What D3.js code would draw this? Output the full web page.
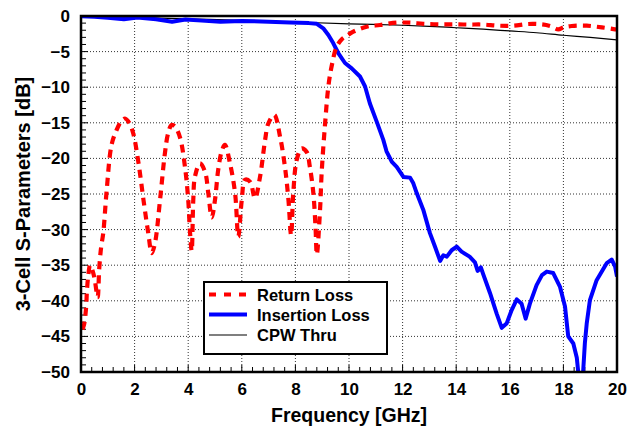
<!DOCTYPE html>
<html><head><meta charset="utf-8">
<script src="https://cdn.jsdelivr.net/npm/d3@7"></script>
<style>body{margin:0;background:#fff}svg{display:block}text{font-family:"Liberation Sans",Arial,sans-serif;font-weight:bold}</style>
</head><body>
<svg id="c" width="637" height="432"></svg>
<script>
const xTicks = [0, 2, 4, 6, 8, 10, 12, 14, 16, 18, 20];
const yTicks = [0, -5, -10, -15, -20, -25, -30, -35, -40, -45, -50];
const seriesNames = ["Return Loss", "Insertion Loss", "CPW Thru"];

const rlFreq = [0.05,0.11,0.19,0.22,0.27,0.34,0.45,0.52,0.62,0.68,0.75,0.83,0.96,1.14,1.33,1.5,1.64,1.8,1.95,2.14,2.33,2.51,2.64,2.76,2.95,3.13,3.25,3.38,3.5,3.69,3.88,4.0,4.07,4.13,4.19,4.25,4.44,4.63,4.75,4.88,5.0,5.12,5.25,5.37,5.56,5.75,5.87,6.0,6.12,6.31,6.49,6.68,6.87,6.99,7.21,7.43,7.61,7.74,7.84,7.92,8.05,8.23,8.42,8.54,8.67,8.75,8.8,8.92,8.98,9.1,9.23,9.35,9.54,9.75,9.91,10.16,10.66,11.16,11.78,12.28,12.77,13.33,13.9,14.45,15.0,15.57,16.13,16.69,17.19,17.5,17.81,18.0,18.31,18.87,19.43,19.93,20];
const rlDb = [-44,-43.4,-41,-38.7,-36.5,-35,-36,-37.2,-39.5,-35.5,-32.5,-30.5,-24.4,-18.1,-16,-14.8,-14.4,-15,-16.5,-20.5,-25.8,-30.5,-33.3,-31.9,-25.8,-19.3,-16.5,-15.3,-15.5,-17,-21.2,-25.8,-30.5,-33,-25.8,-22.6,-20.7,-21.9,-24.9,-28.3,-25.8,-21.6,-19,-18.1,-20.7,-24.9,-31,-25.8,-23,-23.3,-25.6,-22.6,-17.4,-15.1,-13.9,-17,-21.2,-25.8,-30.8,-24.9,-20.2,-18.6,-19.1,-21.2,-24.9,-29.6,-33.5,-27.2,-22,-15.5,-9.9,-7.1,-4.3,-3.2,-2.8,-2.2,-1.5,-1.26,-0.94,-0.94,-1.1,-1.17,-1.17,-1.2,-1.2,-1.36,-1.36,-1.12,-1.17,-1.4,-1.87,-1.6,-1.4,-1.36,-1.6,-1.87,-1.9];

const ilFreq = [0,0.5,1.0,1.6,2.1,2.8,3.4,3.9,4.5,5.2,6.0,7.0,7.8,8.5,8.8,9.04,9.23,9.41,9.6,9.85,10.1,10.41,10.6,10.78,11.03,11.28,11.4,11.6,11.78,12.03,12.28,12.4,12.53,12.77,13.02,13.21,13.4,13.52,13.65,13.83,14.02,14.2,14.5,14.7,14.8,14.92,15.01,15.26,15.51,15.7,15.88,16.07,16.26,16.44,16.59,16.75,17.0,17.2,17.38,17.62,17.87,18.06,18.18,18.37,18.5,18.58,18.65,18.72,18.8,18.87,18.99,19.24,19.62,19.8,19.93,20.0];
const ilDb = [-0.05,-0.1,-0.25,-0.45,-0.2,-0.45,-0.8,-0.5,-0.65,-0.8,-0.7,-0.8,-0.9,-1.0,-1.1,-1.73,-2.67,-3.8,-5.2,-6.6,-7.35,-8.5,-9.9,-12.3,-14.8,-17.4,-19.0,-20.5,-21.2,-22.6,-22.7,-23.5,-24.9,-27.2,-30.5,-32.4,-34.4,-33.6,-33.8,-32.9,-32.4,-33.1,-33.8,-34.6,-35.8,-35.3,-36.3,-38.9,-41.8,-43.8,-43.2,-41.3,-39.8,-40.4,-42.5,-40.4,-37.8,-36.4,-35.9,-36.1,-38.0,-40.8,-45,-46,-48,-51,-56,-51,-46,-43.2,-39.9,-37.1,-34.7,-34.2,-35.2,-36.6];

const cpwFreq = [0,2,4,6,8,10,12,13,14,15,16,17,18,19,20];
const cpwDb = [-0.05,-0.2,-0.4,-0.6,-0.85,-1.1,-1.3,-1.45,-1.65,-1.85,-2.1,-2.35,-2.7,-3.0,-3.35];

const svg = d3.select("#c");
const L = 81, R = 617, T = 16, B = 372;
const FONT = '"Liberation Sans",Arial,sans-serif';
const x = d3.scaleLinear().domain([0, 20]).range([L, R]);
const y = d3.scaleLinear().domain([-50, 0]).range([B, T]);

// grid
const g = svg.append("g");
g.selectAll(".gx").data(xTicks.slice(1, -1)).enter().append("line")
  .attr("x1", d => x(d)).attr("x2", d => x(d)).attr("y1", T).attr("y2", B)
  .attr("stroke", "#333").attr("stroke-width", 1).attr("stroke-dasharray", "1,2");
g.selectAll(".gy").data(yTicks.slice(1, -1)).enter().append("line")
  .attr("y1", d => y(d)).attr("y2", d => y(d)).attr("x1", L).attr("x2", R)
  .attr("stroke", "#333").attr("stroke-width", 1).attr("stroke-dasharray", "1,2");

// minor ticks
const xMinor = d3.range(0, 20.001, 0.4);
const yMinor = d3.range(-50, 0.001, 1);
svg.selectAll(".mx").data(xMinor).enter().append("line")
  .attr("x1", d => x(d)).attr("x2", d => x(d)).attr("y1", B).attr("y2", d => (Math.abs(d / 2 - Math.round(d / 2)) < 1e-6) ? B - 7 : B - 5)
  .attr("stroke", "#000").attr("stroke-width", 1);
svg.selectAll(".my").data(yMinor).enter().append("line")
  .attr("y1", d => y(d)).attr("y2", d => y(d)).attr("x1", L).attr("x2", d => (Math.abs(d % 5) < 1e-6) ? L + 7 : L + 5)
  .attr("stroke", "#000").attr("stroke-width", 1);

// tick labels via d3 axes
const ax = svg.append("g").attr("transform", `translate(0,${B})`)
  .call(d3.axisBottom(x).tickValues(xTicks).tickSize(0).tickPadding(11).tickFormat(d3.format("d")));
ax.select(".domain").remove();
ax.selectAll("text").attr("font-size", 17).attr("font-weight", "bold").attr("fill", "#000").attr("font-family", FONT);
const ay = svg.append("g").attr("transform", `translate(${L},0)`)
  .call(d3.axisLeft(y).tickValues(yTicks).tickSize(0).tickPadding(11).tickFormat(d3.format("d")));
ay.select(".domain").remove();
ay.selectAll("text").attr("font-size", 17).attr("font-weight", "bold").attr("fill", "#000").attr("font-family", FONT);

// clip
svg.append("clipPath").attr("id", "clip").append("rect")
  .attr("x", L).attr("y", T).attr("width", R - L).attr("height", B - T);
const plot = svg.append("g").attr("clip-path", "url(#clip)");

const mk = (fs, vs, curve) => d3.line().x((d, i) => x(fs[i])).y(d => y(d)).curve(curve)(vs);

plot.append("path").attr("d", mk(cpwFreq, cpwDb, d3.curveMonotoneX))
  .attr("fill", "none").attr("stroke", "#000").attr("stroke-width", 1.2);
plot.append("path").attr("d", mk(ilFreq, ilDb, d3.curveLinear))
  .attr("fill", "none").attr("stroke", "#0000ff").attr("stroke-width", 4).attr("stroke-linejoin", "round");
plot.append("path").attr("d", mk(rlFreq, rlDb, d3.curveCatmullRom))
  .attr("fill", "none").attr("stroke", "#ff0000").attr("stroke-width", 4.2).attr("stroke-dasharray", "8,6");

// frame
svg.append("rect").attr("x", L).attr("y", T).attr("width", R - L).attr("height", B - T)
  .attr("fill", "none").attr("stroke", "#000").attr("stroke-width", 2.5);

// legend
const lg = svg.append("g");
lg.append("rect").attr("x", 204).attr("y", 282).attr("width", 183).attr("height", 72)
  .attr("fill", "#fff").attr("stroke", "#000").attr("stroke-width", 2);
const rows = [294.5, 314.5, 335];
const styles = [
  {c: "#ff0000", w: 4, da: "7,8"},
  {c: "#0000ff", w: 4, da: null},
  {c: "#000", w: 1.2, da: null}
];
seriesNames.forEach((n, i) => {
  const ln = lg.append("line").attr("x1", 209).attr("x2", 247).attr("y1", rows[i]).attr("y2", rows[i])
    .attr("stroke", styles[i].c).attr("stroke-width", styles[i].w);
  if (styles[i].da) ln.attr("stroke-dasharray", styles[i].da);
  lg.append("text").attr("x", 257).attr("y", rows[i] + 6).attr("font-size", 16.5).text(n);
});

// titles
svg.append("text").attr("x", (L + R) / 2).attr("y", 422).attr("text-anchor", "middle")
  .attr("font-size", 19.5).text("Frequency [GHz]");
svg.append("text").attr("transform", `translate(30,${(T + B) / 2}) rotate(-90)`).attr("text-anchor", "middle")
  .attr("font-size", 20).text("3-Cell S-Parameters [dB]");
</script>
</body></html>
